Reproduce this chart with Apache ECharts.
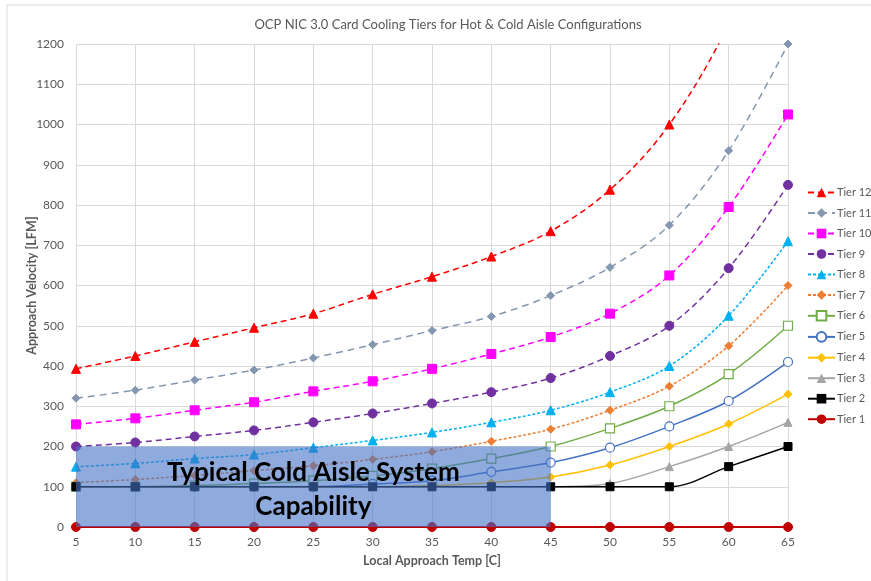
<!DOCTYPE html>
<html><head><meta charset="utf-8">
<script src="https://cdn.jsdelivr.net/npm/echarts@6/dist/echarts.min.js"></script>
<style>html,body{margin:0;padding:0;background:#fff}#c{width:871px;height:581px}</style>
</head><body><div id="c"></div>
<script>
const temps = [5,10,15,20,25,30,35,40,45,50,55,60,65];
const tier12 = [393,425,460,495,530,578,622,672,735,838,1000,1250,1600];
const tier11 = [320,340,365,390,420,453,488,523,575,645,750,935,1200];
const tier10 = [255,270,290,310,337,362,393,430,472,530,625,795,1025];
const tier9  = [200,210,225,240,260,282,307,335,370,425,500,643,850];
const tier8  = [150,158,170,180,197,215,235,260,290,335,400,525,710];
const tier7  = [110,118,128,140,152,168,187,213,243,290,350,450,600];
const tier6  = [100,100,103,108,115,127,145,170,200,245,300,380,500];
const tier5  = [100,100,100,100,100,107,115,137,160,197,250,313,410];
const tier4  = [100,100,100,100,100,100,103,110,124,154,200,256,330];
const tier3  = [100,100,100,100,100,100,100,100,100,108,150,200,260];
const tier2  = [100,100,100,100,100,100,100,100,100,100,100,150,200];
const tier1  = [0,0,0,0,0,0,0,0,0,0,0,0,0];
const boxRange = [[5,0,45,200]];
const boxText = 'Typical Cold Aisle System\nCapability';
const yTicks = {min:0, max:1200, step:100};
const xTicks = {min:5, max:65, step:5};

const FONT = 'Lato, "Open Sans", sans-serif';
const pairs = arr => temps.map((t,i)=>[t,arr[i]]);

const defs = [
  {name:'Tier 12', data:tier12, color:'#FF0000', symbol:'triangle', size:9, dash:[6,4], width:1.5},
  {name:'Tier 11', data:tier11, color:'#8497B0', symbol:'diamond', size:8, dash:[7,5], width:1.5},
  {name:'Tier 10', data:tier10, color:'#FF00FF', symbol:'rect', size:9, dash:[6,4], width:1.5},
  {name:'Tier 9', data:tier9, color:'#7030A0', symbol:'circle', size:9, dash:[6,4], width:1.5},
  {name:'Tier 8', data:tier8, color:'#00B0F0', symbol:'triangle', size:9, dash:[3,2], width:1.5},
  {name:'Tier 7', data:tier7, color:'#ED7D31', symbol:'diamond', size:8, dash:[3,2], width:1.5},
  {name:'Tier 6', data:tier6, color:'#70AD47', symbol:'rect', size:9, dash:null, width:1.5, hollow:true},
  {name:'Tier 5', data:tier5, color:'#4472C4', symbol:'circle', size:9, dash:null, width:1.5, hollow:true},
  {name:'Tier 4', data:tier4, color:'#FFC000', symbol:'diamond', size:8, dash:null, width:1.5},
  {name:'Tier 3', data:tier3, color:'#A5A5A5', symbol:'triangle', size:8, dash:null, width:1.5},
  {name:'Tier 2', data:tier2, color:'#000000', symbol:'rect', size:8, dash:null, width:1.5},
  {name:'Tier 1', data:tier1, color:'#C00000', symbol:'circle', size:9, dash:null, width:2}
];

const series = defs.map((d,i)=>({
  name:d.name, type:'line', data:pairs(d.data), smooth:0.35,
  symbol:d.symbol, symbolSize:d.size, z: 2 + i,
  clip:true,
  lineStyle:{color:d.color, width:d.width, type:d.dash?d.dash:'solid'},
  itemStyle: d.hollow ? {color:'#fff', borderColor:d.color, borderWidth:1.2} : {color:d.color, borderColor:d.color},
  emphasis:{disabled:true}
}));

series.push({
  type:'custom', z:30, silent:true, data:boxRange,
  renderItem:(params, api)=>{
    const p0 = api.coord([api.value(0), api.value(1)]);
    const p1 = api.coord([api.value(2), api.value(3)]);
    const cx = (p0[0]+p1[0])/2;
    return {type:'group', children:[
      {type:'rect', shape:{x:p0[0], y:p1[1], width:p1[0]-p0[0], height:p0[1]-p1[1]},
       style:{fill:'rgba(68,114,196,0.6)'}},
      {type:'text', style:{text:boxText, x:cx, y:(p0[1]+p1[1])/2 + 3, align:'center', verticalAlign:'middle',
        font:'bold 26px ' + FONT, fill:'#000', lineHeight:34}}
    ]};
  }
});

const chart = echarts.init(document.getElementById('c'), null, {renderer:'canvas'});
chart.setOption({
  animation:false,
  backgroundColor:'#fff',
  title:{text:'OCP NIC 3.0 Card Cooling Tiers for Hot & Cold Aisle Configurations', left:443, top:13, textAlign:'center',
    textStyle:{fontFamily:FONT, fontSize:13, fontWeight:'normal', color:'#595959'}},
  graphic:[{type:'rect', shape:{x:7, y:5, width:900, height:620}, style:{fill:null, stroke:'#D9D9D9', lineWidth:1}, silent:true, z:-1}],
  legend:{orient:'vertical', left:807, top:187, padding:0, itemGap:9.5, itemWidth:27, itemHeight:12,
    data:defs.map(d=>d.name),
    textStyle:{fontFamily:FONT, fontSize:11, color:'#595959', padding:[0,0,0,-3], overflow:'none'}},
  grid:{left:76, right:83, top:44, bottom:54},
  xAxis:{type:'value', min:xTicks.min, max:xTicks.max, interval:xTicks.step,
    name:'Local Approach Temp [C]', nameLocation:'middle', nameGap:27,
    nameTextStyle:{fontFamily:FONT, fontSize:12.5, fontWeight:'bold', color:'#595959'},
    axisLine:{lineStyle:{color:'#D9D9D9'}}, axisTick:{show:false},
    axisLabel:{fontFamily:FONT, fontSize:12, color:'#595959', margin:9},
    splitLine:{show:true, lineStyle:{color:'#D9D9D9'}}},
  yAxis:{type:'value', min:yTicks.min, max:yTicks.max, interval:yTicks.step,
    name:'Approach Velocity [LFM]', nameLocation:'middle', nameGap:38, nameMoveOverlap:false,
    nameTextStyle:{fontFamily:FONT, fontSize:12.5, fontWeight:'bold', color:'#595959'},
    axisLine:{show:false}, axisTick:{show:false},
    axisLabel:{fontFamily:FONT, fontSize:12, color:'#595959', margin:12, formatter:v=>String(v)},
    splitLine:{show:true, lineStyle:{color:'#D9D9D9'}}},
  series:series
});
</script></body></html>
